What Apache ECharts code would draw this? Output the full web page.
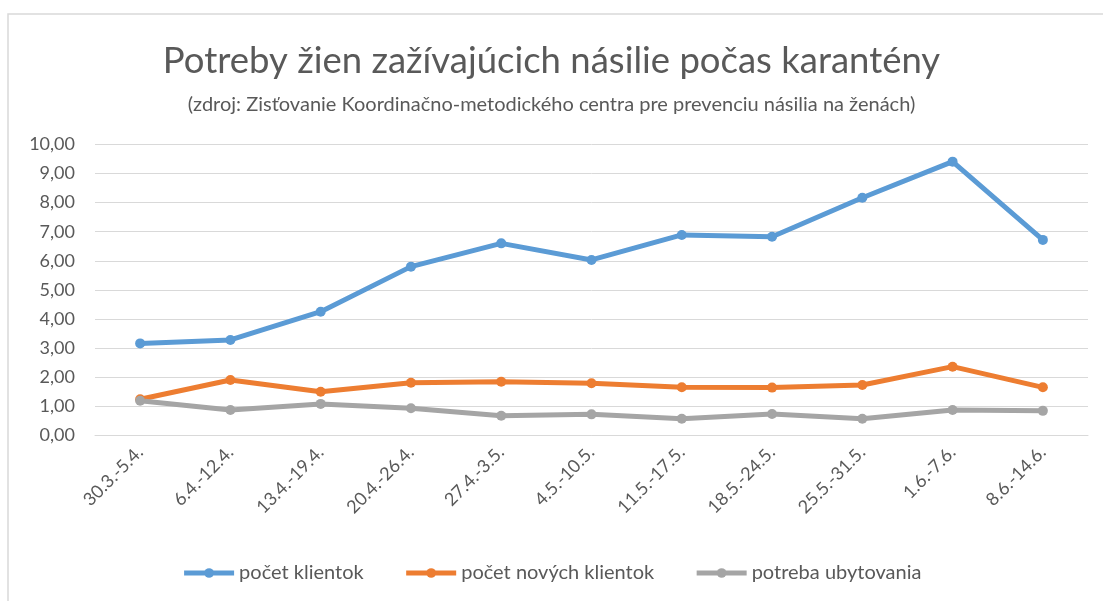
<!DOCTYPE html>
<html>
<head>
<meta charset="utf-8">
<script src="https://cdn.jsdelivr.net/npm/echarts@6/dist/echarts.min.js"></script>
<style>
  html, body { margin: 0; padding: 0; background: #fff; }
  #chart { width: 1103px; height: 601px; }
</style>
</head>
<body>
<div id="chart"></div>
<script>
  // obdobia (týždne)
  const weeks = ['30.3.-5.4.', '6.4.-12.4.', '13.4.-19.4.', '20.4.-26.4.', '27.4.-3.5.', '4.5.-10.5.',
    '11.5.-17.5.', '18.5.-24.5.', '25.5.-31.5.', '1.6.-7.6.', '8.6.-14.6.'];
  const pocetKlientok = [3.16, 3.28, 4.25, 5.80, 6.60, 6.03, 6.89, 6.83, 8.17, 9.41, 6.72];
  const pocetNovychKlientok = [1.24, 1.90, 1.50, 1.81, 1.84, 1.79, 1.65, 1.64, 1.73, 2.36, 1.65];
  const potrebaUbytovania = [1.19, 0.87, 1.08, 0.93, 0.67, 0.72, 0.57, 0.73, 0.57, 0.87, 0.84];

  const font = 'Lato, "Open Sans", sans-serif';
  const textColor = '#595959';

  function lineSeries(name, data, color) {
    return {
      name: name,
      type: 'line',
      data: data,
      symbol: 'circle',
      symbolSize: 10,
      lineStyle: { width: 5, color: color },
      itemStyle: { color: color },
      emphasis: { disabled: true }
    };
  }

  let chart = echarts.init(document.getElementById('chart'));
  chart.setOption({
    animation: false,
    graphic: [{
      type: 'rect',
      shape: { x: 8, y: 14, width: 1110, height: 600 },
      style: { fill: 'none', stroke: '#d9d9d9', lineWidth: 1.5 },
      silent: true
    }],
    title: [{
      text: 'Potreby žien zažívajúcich násilie počas karantény',
      left: 'center',
      top: 38,
      textStyle: { fontFamily: font, fontSize: 36.5, fontWeight: 'normal', color: textColor }
    }, {
      text: '(zdroj: Zisťovanie Koordinačno-metodického centra pre prevenciu násilia na ženách)',
      left: 'center',
      top: 90,
      textStyle: { fontFamily: font, fontSize: 20, fontWeight: 'normal', color: textColor }
    }],
    legend: {
      bottom: 13,
      left: 'center',
      itemWidth: 50,
      itemHeight: 12,
      itemGap: 40,
      lineStyle: { width: 5 },
      textStyle: { fontFamily: font, fontSize: 20, color: textColor },
      data: ['počet klientok', 'počet nových klientok', 'potreba ubytovania']
    },
    grid: { left: 95, right: 15, top: 144.5, bottom: 165.7, containLabel: false },
    xAxis: {
      type: 'category',
      data: weeks,
      boundaryGap: true,
      axisLine: { show: true, lineStyle: { color: '#d9d9d9', width: 1 } },
      axisTick: { show: false },
      axisLabel: { rotate: 45, interval: 0, margin: 14, fontFamily: font, fontSize: 18, color: textColor }
    },
    yAxis: {
      type: 'value',
      min: 0,
      max: 10,
      interval: 1,
      axisLine: { show: false },
      axisTick: { show: false },
      splitLine: { lineStyle: { color: '#d9d9d9', width: 1 } },
      axisLabel: {
        margin: 20,
        fontFamily: font,
        fontSize: 18,
        color: textColor,
        formatter: v => v.toFixed(2).replace('.', ',')
      }
    },
    series: [
      lineSeries('počet klientok', pocetKlientok, '#5B9BD5'),
      lineSeries('počet nových klientok', pocetNovychKlientok, '#ED7D31'),
      lineSeries('potreba ubytovania', potrebaUbytovania, '#A5A5A5')
    ]
  });
</script>
</body>
</html>
